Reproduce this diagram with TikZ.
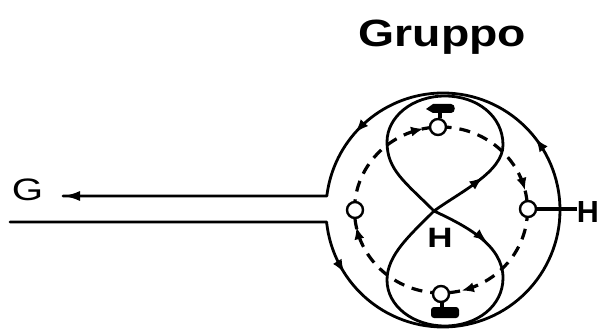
\documentclass[tikz,border=0pt]{standalone}
\usepackage{fontspec}
\setmainfont{Liberation Sans}
\usetikzlibrary{arrows.meta,calc}
\tikzset{
  flow/.style={line width=2.8pt, line cap=round, line join=round},
  dashring/.style={line width=3.2pt, dash pattern=on 11pt off 8pt},
  tipa/.style={-{Latex[length=13pt,width=10pt]}, line width=1.5pt},
  tipb/.style={-{Latex[length=12pt,width=10pt]}, line width=1.5pt},
  smallc/.style={circle, draw, line width=2.4pt, fill=white, minimum size=16pt, inner sep=0pt},
  lbl/.style={inner sep=0pt, anchor=base},
}
\begin{document}
\begin{tikzpicture}[x=1pt,y=-1pt]
\useasboundingbox (0,0) rectangle (604,331);
% title
\node[lbl] (title) at (442.5,47) {\scalebox{1.22}[1]{\fontsize{38}{40}\selectfont\bfseries Gruppo}};
% labels
\node[lbl] (G) at (27.5,200) {\scalebox{1.3}[1]{\fontsize{31}{32}\selectfont G}};
\node[lbl] (Hc) at (440,247) {\scalebox{1.25}[1]{\fontsize{28}{30}\selectfont\bfseries H}};
\node[lbl] (Hr) at (588,222) {\fontsize{30.5}{32}\selectfont\bfseries H};
% centres
\coordinate (O) at (443,210);
\coordinate (D) at (441,210);
\coordinate (inL) at (10,222);
\coordinate (inR) at (326.6,222);
\coordinate (outR) at (326.8,196);
\coordinate (outL) at (63,196);
% outer loop with channels
\draw[flow] (inL) -- (inR) arc[start angle=174.11, end angle=-173.13, radius=117] -- (outL);
\draw[-{Latex[length=17pt,width=10pt]}, line width=2.8pt] (outR) -- (outL);
% outer arrows (flow decreasing angle)
\draw[tipa] ([shift={(150:117)}]O) -- ([shift={(147.7:117)}]O);
\draw[tipa] ([shift={(-35.2:117)}]O) -- ([shift={(-37.5:117)}]O);
\draw[tipa] ([shift={(-136.1:117)}]O) -- ([shift={(-138.4:117)}]O);
% figure eight
\draw[flow] (434,211) .. controls (460,192) and (503,172) .. (503,145)
  .. controls (503,116) and (477,96) .. (445,96)
  .. controls (412,96) and (387,117) .. (387,142)
  .. controls (387,170) and (405,182) .. (434,211)
  .. controls (466,226) and (503,245) .. (503,278)
  .. controls (503,306) and (477,326) .. (445,326)
  .. controls (413,326) and (387,306) .. (387,280)
  .. controls (387,255) and (410,235) .. (434,211);
\draw[tipa] (478,181) -- (482.5,177.6);
\draw[tipa] (482,237.8) -- (486.5,241.5);
% dashed ring
\draw[dashring] (D) ellipse[x radius=86.5, y radius=83];
\draw[tipb] ([shift={(-105:86.5 and 83)}]D) -- ([shift={(-102:86.5 and 83)}]D);
\draw[tipb] ([shift={(-17:86.5 and 83)}]D) -- ([shift={(-14:86.5 and 83)}]D);
\draw[tipb] ([shift={(73:86.5 and 83)}]D) -- ([shift={(76:86.5 and 83)}]D);
\draw[tipb] ([shift={(165:86.5 and 83)}]D) -- ([shift={(168:86.5 and 83)}]D);
% blobs at top and bottom circles
\fill (426,109) -- (433,104) -- (451,104) .. controls (456,104) and (456,113) .. (451,113) -- (433,113) -- cycle;
\draw[line width=3.5pt] (440,111) -- (440,118);
\draw[line width=3.5pt] (442,301) -- (442,309);
\fill[rounded corners=3pt] (431,307) rectangle (459,318);
% small circles
\node[smallc] (ct) at (438,127) {};
\node[smallc] (cl) at (355,210) {};
\node[smallc] (cr) at (528,209) {};
\node[smallc] (cb) at (441,294) {};
% right H connector
\draw[line width=4.5pt] (cr.east) -- (Hr.west |- cr.east);
\end{tikzpicture}
\end{document}
